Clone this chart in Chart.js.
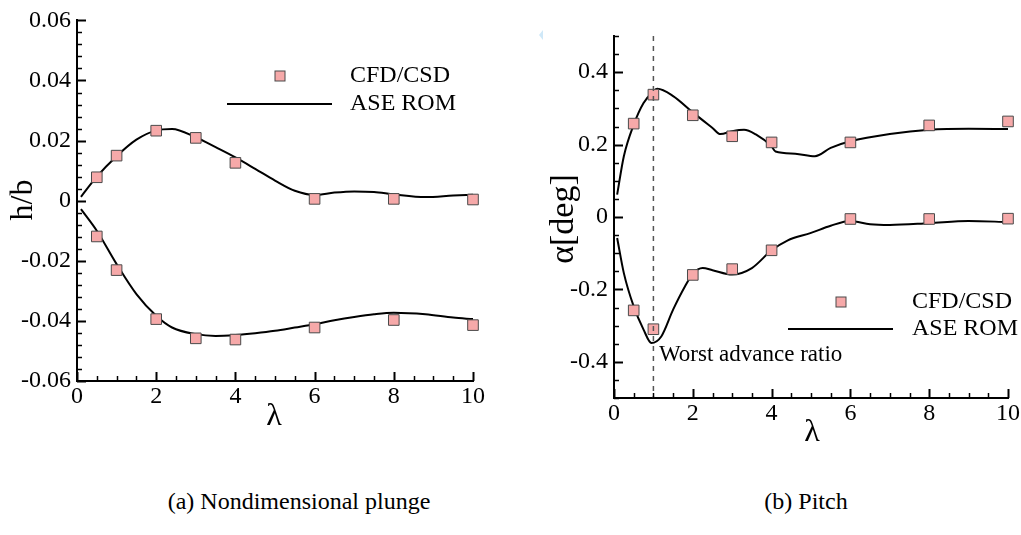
<!DOCTYPE html>
<html>
<head>
<meta charset="utf-8">
<script src="https://cdn.jsdelivr.net/npm/chart.js@4.4.1/dist/chart.umd.min.js"></script>
<style>
  html, body { margin: 0; padding: 0; background: #fff; width: 1021px; height: 535px; overflow: hidden; }
  canvas { position: absolute; top: 0; }
  #plunge { left: 0; width: 510px; height: 450px; }
  #pitch { left: 510px; width: 511px; height: 460px; }
  .cap { position: absolute; font-family: "Liberation Serif", "Times New Roman", serif; font-size: 24px;
         line-height: 24px; white-space: nowrap; transform: translateX(-50%); color: #000; }
</style>
</head>
<body>
<canvas id="plunge" width="510" height="450"></canvas>
<canvas id="pitch" width="511" height="460"></canvas>
<div class="cap" style="left:299px; top:489px">(a) Nondimensional plunge</div>
<div class="cap" style="left:806px; top:489px">(b) Pitch</div>
<script>
// ---- CFD/CSD samples (advance ratio λ) ----
const cfdLambda = [0.5, 1, 2, 3, 4, 6, 8, 10];
const plungeCfdUpper = [0.0078, 0.0150, 0.0233, 0.0209, 0.0126, 0.0006, 0.0006, 0.0004];
const plungeCfdLower = [-0.0119, -0.0231, -0.0394, -0.0458, -0.0462, -0.0422, -0.0397, -0.0414];
const pitchCfdUpper = [0.258, 0.338, 0.281, 0.223, 0.206, 0.206, 0.253, 0.264];
const pitchCfdLower = [-0.258, -0.310, -0.160, -0.144, -0.092, -0.0055, -0.0055, -0.0046];

// ---- ASE ROM envelopes ----
const plungeRomLambda = [0.1, 0.5, 1, 1.5, 2, 2.4, 3, 3.5, 4, 4.5, 5, 5.5, 6, 6.5, 7, 7.5, 8, 8.8, 9.5, 10];
const plungeRomUpper = [0.0013, 0.0080, 0.0148, 0.0203, 0.0234, 0.0239, 0.0211, 0.0178, 0.0144, 0.0106,
                        0.0067, 0.0033, 0.0019, 0.0027, 0.0031, 0.0029, 0.0021, 0.0012, 0.0017, 0.0020];
const plungeRomLower = [-0.0028, -0.0100, -0.0211, -0.0311, -0.0383, -0.0422, -0.0444, -0.0450, -0.0447, -0.0441,
                        -0.0433, -0.0422, -0.0411, -0.0398, -0.0387, -0.0378, -0.0373, -0.0378, -0.0389, -0.0394];

const pitchRomUpperLambda = [0.08, 0.25, 0.5, 0.75, 1, 1.1, 1.5, 2, 2.5, 2.7, 3, 3.3, 3.6, 4, 4.1, 4.6, 5.1, 5.5, 6, 7, 8, 9, 10];
const pitchRomUpper = [0.062, 0.168, 0.255, 0.315, 0.347, 0.354, 0.334, 0.289, 0.246, 0.229, 0.237, 0.241,
                       0.228, 0.195, 0.181, 0.175, 0.168, 0.191, 0.209, 0.229, 0.241, 0.244, 0.243];
const pitchRomLowerLambda = [0.08, 0.25, 0.5, 0.75, 0.95, 1.2, 1.5, 1.8, 2, 2.25, 2.5, 3, 3.5, 4, 4.4, 5, 5.5, 6, 6.5, 7, 8, 9, 10];
const pitchRomLower = [-0.058, -0.155, -0.247, -0.311, -0.348, -0.330, -0.256, -0.192, -0.157, -0.141, -0.147,
                       -0.159, -0.141, -0.092, -0.065, -0.044, -0.024, -0.011, -0.020, -0.022, -0.017, -0.011, -0.014];

const worstLambda = 1;

// ---- tick labels ----
const lambdaTicks = [0, 2, 4, 6, 8, 10];
const plungeTicks = [-0.06, -0.04, -0.02, 0, 0.02, 0.04, 0.06];
const pitchTicks = [-0.4, -0.2, 0, 0.2, 0.4];

const SERIF = '"Liberation Serif", "Times New Roman", serif';
const MARK_FILL = '#f6a9a9';
const MARK_EDGE = '#4a4a4a';

const pts = (xs, ys) => xs.map((x, i) => ({ x, y: ys[i] }));

// Inward tick marks, legend, axis titles and annotations
const decor = {
  id: 'decor',
  afterDraw(chart, args, o) {
    const ctx = chart.ctx;
    const xs = chart.scales.x, ys = chart.scales.y;
    const area = chart.chartArea;
    ctx.save();

    if (o.marker) {
      const px = xs.getPixelForValue(o.marker.value);
      ctx.strokeStyle = '#555';
      ctx.lineWidth = 1.5;
      ctx.setLineDash([5, 5]);
      ctx.beginPath();
      ctx.moveTo(px, area.top);
      ctx.lineTo(px, area.bottom);
      ctx.stroke();
      ctx.setLineDash([]);
      ctx.fillStyle = '#000';
      ctx.font = '23px ' + SERIF;
      ctx.textAlign = 'left';
      ctx.textBaseline = 'middle';
      ctx.fillText(o.marker.text, o.marker.tx, o.marker.ty);
    }

    // tick marks pointing into the plot
    ctx.strokeStyle = '#000';
    const isMajor = (v, step) => Math.abs(v / step - Math.round(v / step)) < 1e-6;
    const nx = Math.round((xs.max - xs.min) / o.xMinor);
    for (let i = 0; i <= nx; i++) {
      const v = xs.min + i * o.xMinor;
      const p = Math.round(xs.getPixelForValue(v)) + 0.5;
      const major = isMajor(v, o.xMajor);
      ctx.lineWidth = major ? 2 : 1.5;
      ctx.beginPath();
      ctx.moveTo(p, area.bottom);
      ctx.lineTo(p, area.bottom - (major ? 9 : 5));
      ctx.stroke();
    }
    const ny = Math.round((ys.max - ys.min) / o.yMinor);
    for (let i = 0; i <= ny; i++) {
      const v = ys.min + i * o.yMinor;
      const p = Math.round(ys.getPixelForValue(v)) + 0.5;
      const major = isMajor(v, o.yMajor);
      ctx.lineWidth = major ? 2 : 1.5;
      ctx.beginPath();
      ctx.moveTo(area.left, p);
      ctx.lineTo(area.left + (major ? 9 : 5), p);
      ctx.stroke();
    }

    // legend
    const L = o.legend;
    ctx.fillStyle = MARK_FILL;
    ctx.strokeStyle = MARK_EDGE;
    ctx.lineWidth = 1;
    ctx.fillRect(L.mx - 5, L.my - 5, 10, 10);
    ctx.strokeRect(L.mx - 5, L.my - 5, 10, 10);
    ctx.strokeStyle = '#000';
    ctx.lineWidth = 2;
    ctx.beginPath();
    ctx.moveTo(L.lx0, L.ly);
    ctx.lineTo(L.lx1, L.ly);
    ctx.stroke();
    ctx.fillStyle = '#000';
    ctx.font = '24px ' + SERIF;
    ctx.textAlign = 'left';
    ctx.textBaseline = 'middle';
    ctx.fillText('CFD/CSD', L.tx, L.my);
    ctx.fillText('ASE ROM', L.tx, L.ly);

    // axis titles
    ctx.textAlign = 'center';
    ctx.font = o.xTitle.size + 'px ' + SERIF;
    ctx.fillText('λ', o.xTitle.x, o.xTitle.y);
    ctx.save();
    ctx.translate(o.yTitle.x, o.yTitle.y);
    ctx.rotate(-Math.PI / 2);
    ctx.font = o.yTitle.size + 'px ' + SERIF;
    ctx.fillText(o.yTitle.text, 0, 0);
    ctx.restore();

    if (o.pointer) {
      ctx.fillStyle = '#cfe8f8';
      ctx.beginPath();
      ctx.moveTo(o.pointer.x, o.pointer.y);
      ctx.lineTo(o.pointer.x + 4, o.pointer.y - 5);
      ctx.lineTo(o.pointer.x + 4, o.pointer.y + 5);
      ctx.closePath();
      ctx.fill();
    }
    ctx.restore();
  }
};

function cfdSet(values) {
  return {
    data: pts(cfdLambda, values), showLine: false, pointStyle: 'rect', pointRadius: 7.5, pointHoverRadius: 7.5,
    pointBackgroundColor: MARK_FILL, pointBorderColor: MARK_EDGE, pointBorderWidth: 1, clip: false, order: 0
  };
}
function romSet(xs, values) {
  return {
    data: pts(xs, values), borderColor: '#000', borderWidth: 2, pointRadius: 0, fill: false,
    cubicInterpolationMode: 'monotone', clip: false, order: 1
  };
}

function makeChart(id, cfg) {
  return new Chart(document.getElementById(id), {
    type: 'line',
    data: { datasets: cfg.datasets },
    options: {
      responsive: false, animation: false, devicePixelRatio: 1,
      layout: { padding: cfg.padding },
      plugins: { legend: { display: false }, tooltip: { enabled: false }, decor: cfg.decor },
      scales: {
        x: {
          type: 'linear', min: 0, max: 10,
          afterFit: s => { s.height = cfg.xHeight; },
          afterBuildTicks: s => { s.ticks = lambdaTicks.map(v => ({ value: v })); },
          grid: { display: false, drawTicks: false },
          border: { display: true, color: '#000', width: 2 },
          ticks: { color: '#000', font: { family: SERIF, size: 24 }, padding: cfg.xPad, maxRotation: 0,
                   callback: v => String(v) }
        },
        y: {
          type: 'linear', min: cfg.yMin, max: cfg.yMax,
          afterFit: s => { s.width = cfg.yWidth; },
          afterBuildTicks: s => { s.ticks = cfg.yTicks.map(v => ({ value: v })); },
          grid: { display: false, drawTicks: false },
          border: { display: true, color: '#000', width: 2 },
          ticks: { color: '#000', font: { family: SERIF, size: 24 }, padding: 6,
                   callback: v => (Math.abs(v) < 1e-9 ? '0' : v.toFixed(cfg.digits)) }
        }
      }
    },
    plugins: [decor]
  });
}

makeChart('plunge', {
  datasets: [romSet(plungeRomLambda, plungeRomUpper), romSet(plungeRomLambda, plungeRomLower),
             cfdSet(plungeCfdUpper), cfdSet(plungeCfdLower)],
  padding: { top: 19, right: 37, left: 0, bottom: 0 },
  xHeight: 69, yWidth: 77, xPad: 1,
  yMin: -0.06, yMax: 0.06, yTicks: plungeTicks, digits: 2,
  decor: {
    xMajor: 2, xMinor: 0.5, yMajor: 0.02, yMinor: 0.004,
    legend: { mx: 280, my: 76, lx0: 227, lx1: 332, ly: 104, tx: 350 },
    xTitle: { x: 274, y: 417, size: 32 },
    yTitle: { x: 24, y: 200, size: 32, text: 'h/b' }
  }
});

makeChart('pitch', {
  datasets: [romSet(pitchRomUpperLambda, pitchRomUpper), romSet(pitchRomLowerLambda, pitchRomLower),
             cfdSet(pitchCfdUpper), cfdSet(pitchCfdLower)],
  padding: { top: 36, right: 12, left: 0, bottom: 0 },
  xHeight: 62, yWidth: 104, xPad: 1,
  yMin: -0.5, yMax: 0.5, yTicks: pitchTicks, digits: 1,
  decor: {
    xMajor: 2, xMinor: 0.5, yMajor: 0.2, yMinor: 0.05,
    legend: { mx: 331, my: 302, lx0: 278, lx1: 383, ly: 329, tx: 402 },
    xTitle: { x: 302, y: 433, size: 32 },
    yTitle: { x: 54, y: 219, size: 34, text: 'α[deg]' },
    marker: { value: worstLambda, text: 'Worst advance ratio', tx: 149, ty: 355 },
    pointer: { x: 29, y: 35 }
  }
});
</script>
</body>
</html>
